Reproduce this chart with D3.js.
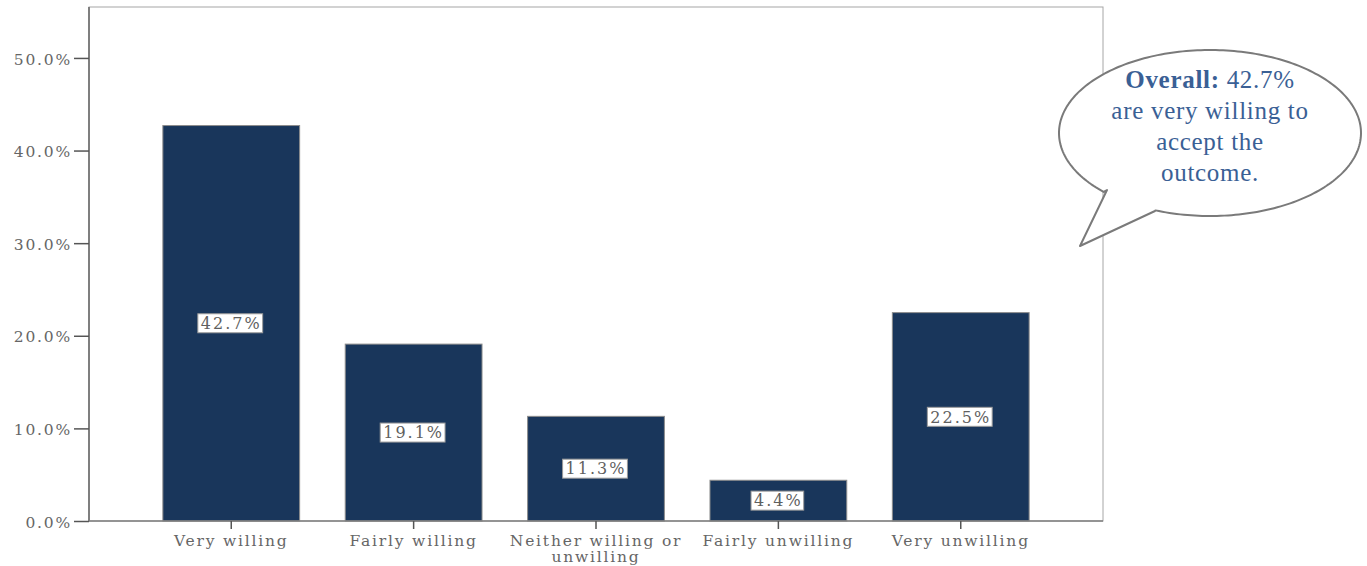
<!DOCTYPE html>
<html><head><meta charset="utf-8">
<script src="https://cdn.jsdelivr.net/npm/d3@7/dist/d3.min.js"></script>
<style>body{margin:0;background:#fff;} svg{display:block;}</style>
</head><body>
<svg id="c" width="1367" height="566"></svg>
<script>
const categories = ["Very willing", "Fairly willing", "Neither willing or unwilling", "Fairly unwilling", "Very unwilling"];
const values = [42.7, 19.1, 11.3, 4.4, 22.5];
const yTicks = [0, 10, 20, 30, 40, 50];
const calloutLines = [["Overall:", " 42.7%"], ["", "are very willing to"], ["", "accept the"], ["", "outcome."]];

const svg = d3.select("#c");
const L = 89, R = 1103, T = 7, B = 521;
const x = d3.scaleBand().domain(categories).range([L, R]).paddingInner(0.25).paddingOuter(0.405);
const y = d3.scaleLinear().domain([0, 55.5]).range([B, T]);
const font = "'DejaVu Serif', serif";
const fs = 15.5, ls = 1.8;

// frame
svg.append("rect").attr("x", L).attr("y", T).attr("width", R - L).attr("height", B - T)
  .attr("fill", "none").attr("stroke", "#a6a6a6").attr("stroke-width", 1);

// bars
svg.selectAll("rect.bar").data(values).join("rect").attr("class", "bar")
  .attr("x", (d, i) => x(categories[i])).attr("width", x.bandwidth())
  .attr("y", d => y(d)).attr("height", d => B - y(d))
  .attr("fill", "#19365b").attr("stroke", "#8c8c8c").attr("stroke-width", 1);

// y axis
const yAxis = svg.append("g").attr("transform", `translate(${L},0)`)
  .call(d3.axisLeft(y).tickValues(yTicks).tickSize(15).tickPadding(2).tickFormat(d => d.toFixed(1) + "%"));
yAxis.select(".domain").attr("stroke", "#7f7f7f").attr("stroke-width", 2).attr("d", `M0,${T}V${B}`);
yAxis.selectAll(".tick line").attr("stroke", "#555").attr("stroke-width", 1.5);
yAxis.selectAll(".tick text").attr("fill", "#666").attr("font-family", font).attr("font-size", fs)
  .attr("letter-spacing", ls).attr("dy", "0.4em");

// x axis
const xAxis = svg.append("g").attr("transform", `translate(0,${B})`)
  .call(d3.axisBottom(x).tickSize(8).tickPadding(6));
xAxis.select(".domain").attr("stroke", "#7f7f7f").attr("stroke-width", 1.5).attr("d", `M${L},0H${R}`);
xAxis.selectAll(".tick line").attr("stroke", "#555").attr("stroke-width", 1.5);
xAxis.selectAll(".tick text").attr("fill", "#666").attr("font-family", font).attr("font-size", fs)
  .attr("letter-spacing", ls)
  .each(function (d) {
    const t = d3.select(this);
    if (d === "Neither willing or unwilling") {
      t.text(null);
      t.append("tspan").attr("x", 0).attr("dy", "0.71em").text("Neither willing or");
      t.append("tspan").attr("x", 0).attr("dy", "1.0em").text("unwilling");
    }
  });

// data labels
const lab = svg.selectAll("g.lab").data(values).join("g").attr("class", "lab")
  .attr("transform", (d, i) => `translate(${x(categories[i]) + x.bandwidth() / 2},${y(d / 2)})`);
lab.append("text").attr("text-anchor", "middle").attr("dy", "0.36em")
  .attr("font-family", font).attr("font-size", 16).attr("letter-spacing", 2).attr("fill", "#5f5f5f")
  .text(d => d.toFixed(1) + "%");
lab.each(function () {
  const g = d3.select(this), t = g.select("text"), bb = t.node().getBBox();
  g.insert("rect", "text").attr("x", bb.x - 3).attr("y", -9.5).attr("width", bb.width + 4).attr("height", 19)
    .attr("fill", "#fff").attr("stroke", "#9a9a9a").attr("stroke-width", 1);
});

// callout
const cx = 1210, cy = 133, rx = 151, ry = 83;
const start = [1107, 190], tip = [1080, 246], end = [1155, 211];
const ang = p => Math.atan2((p[1] - cy) / ry, (p[0] - cx) / rx);
const path = d3.path();
path.moveTo(start[0], start[1]);
path.lineTo(tip[0], tip[1]);
path.lineTo(end[0], end[1]);
let aS = ang(end), aE = ang(start);
let aEnd = aE; while (aEnd >= aS) aEnd -= 2 * Math.PI;
const steps = 240;
for (let k = 0; k <= steps; k++) {
  const a = aS + (aEnd - aS) * k / steps;
  path.lineTo(cx + rx * Math.cos(a), cy + ry * Math.sin(a));
}
path.closePath();
svg.append("path").attr("d", path.toString()).attr("fill", "#fff").attr("stroke", "#7a7a7a")
  .attr("stroke-width", 2).attr("stroke-linejoin", "round");

const ct = svg.append("text").attr("text-anchor", "middle").attr("font-family", "'Liberation Serif', serif")
  .attr("font-size", 25).attr("letter-spacing", 0.7).attr("fill", "#3a6095");
calloutLines.forEach((ln, i) => {
  const tl = ct.append("tspan").attr("x", 1210).attr("y", 88 + i * 31);
  if (ln[0]) tl.append("tspan").attr("font-weight", "bold").text(ln[0]);
  tl.append("tspan").text(ln[1]);
});
</script>
</body></html>
